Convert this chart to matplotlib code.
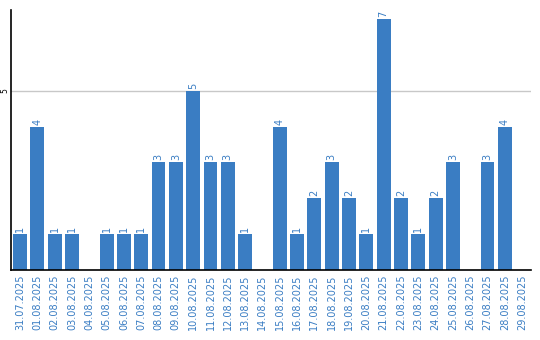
import matplotlib
matplotlib.use('Agg')
import matplotlib.pyplot as plt

dates = ['31.07.2025', '01.08.2025', '02.08.2025', '03.08.2025', '04.08.2025',
         '05.08.2025', '06.08.2025', '07.08.2025', '08.08.2025', '09.08.2025',
         '10.08.2025', '11.08.2025', '12.08.2025', '13.08.2025', '14.08.2025',
         '15.08.2025', '16.08.2025', '17.08.2025', '18.08.2025', '19.08.2025',
         '20.08.2025', '21.08.2025', '22.08.2025', '23.08.2025', '24.08.2025',
         '25.08.2025', '26.08.2025', '27.08.2025', '28.08.2025', '29.08.2025']
counts = [1, 4, 1, 1, 0, 1, 1, 1, 3, 3, 5, 3, 3, 1, 0,
          4, 1, 2, 3, 2, 1, 7, 2, 1, 2, 3, 0, 3, 4, 0]

blue = '#3a7dc3'

fig = plt.figure(figsize=(5.4, 3.4), dpi=100)
ax = fig.add_axes([0.021, 0.206, 0.962, 0.765])

x = list(range(len(dates)))
ax.bar(x, counts, width=0.8, color=blue, zorder=2)
for i, v in enumerate(counts):
    if v > 0:
        ax.text(i, v + 0.06, str(v), rotation=90, ha='center', va='bottom',
                fontsize=7, color=blue)

ax.set_xlim(-0.5, len(dates) - 0.5)
ax.set_ylim(0, 7.26)
ax.axhline(5, color='#c8c8c8', linewidth=1, zorder=1)

ax.set_xticks(x)
ax.set_xticklabels(dates, rotation=90, fontsize=7, color=blue)
ax.set_yticks([5])
ax.set_yticklabels(['5'], rotation=90, fontsize=5.5, va='center')
ax.tick_params(axis='x', length=0, pad=3)
ax.tick_params(axis='y', length=0, pad=1.5)

for s in ['top', 'right']:
    ax.spines[s].set_visible(False)
ax.spines['left'].set_linewidth(1.2)
ax.spines['bottom'].set_linewidth(1.2)

fig.savefig('out.png', dpi=100)
